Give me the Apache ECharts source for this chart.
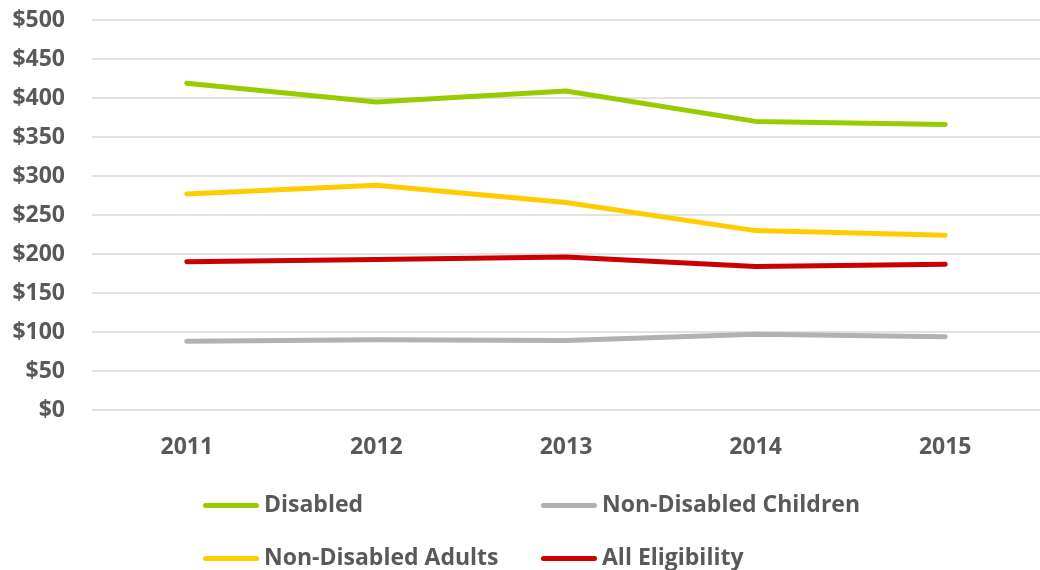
<!DOCTYPE html>
<html>
<head>
<meta charset="utf-8">
<script src="https://cdn.jsdelivr.net/npm/echarts@6/dist/echarts.min.js"></script>
<style>
  html, body { margin: 0; padding: 0; background: #ffffff; }
  #chart { width: 1040px; height: 570px; }
</style>
</head>
<body>
<div id="chart"></div>
<script>
// Monthly cost per enrollee by eligibility group, 2011-2015
const years = ['2011', '2012', '2013', '2014', '2015'];
const disabled = [419, 395, 409, 370, 366];
const nonDisabledChildren = [88, 90, 89, 97, 94];
const nonDisabledAdults = [277, 288, 266, 230, 224];
const allEligibility = [190, 193, 196, 184, 187];

const textColor = '#595959';
const fontFamily = '"Open Sans", Lato, sans-serif';

function lineSeries(name, data, color) {
  return {
    name: name,
    type: 'line',
    data: data,
    showSymbol: false,
    symbol: 'none',
    lineStyle: { color: color, width: 5, cap: 'round', join: 'round' },
    itemStyle: { color: color },
    emphasis: { disabled: true }
  };
}

// Two stacked legend columns with thick rounded line keys
const legendBase = {
  orient: 'vertical',
  top: 494,
  padding: 0,
  icon: 'path://M0,0 M56,22 M2.5,8.5 L53.5,8.5 A2.5,2.5 0 0 1 53.5,13.5 L2.5,13.5 A2.5,2.5 0 0 1 2.5,8.5 Z',
  itemWidth: 56,
  itemHeight: 22,
  itemGap: 30,
  textStyle: {
    color: textColor, fontSize: 23, fontWeight: 'bold', fontFamily: fontFamily, lineHeight: 22
  },
  selectedMode: false
};

const chart = echarts.init(document.getElementById('chart'), null, { renderer: 'canvas' });
chart.setOption({
  backgroundColor: '#ffffff',
  animation: false,
  grid: { left: 92, top: 20, width: 956, height: 390, containLabel: false },
  legend: [
    Object.assign({}, legendBase, { left: 203, data: ['Disabled', 'Non-Disabled Adults'] }),
    Object.assign({}, legendBase, { left: 541, data: ['Non-Disabled Children', 'All Eligibility'] })
  ],
  xAxis: {
    type: 'category',
    data: years,
    boundaryGap: true,
    axisLine: { show: false },
    axisTick: { show: false },
    axisLabel: { color: textColor, fontSize: 23, fontWeight: 'bold', fontFamily: fontFamily, margin: 26 }
  },
  yAxis: {
    type: 'value',
    min: 0,
    max: 500,
    interval: 50,
    axisLine: { show: false },
    axisTick: { show: false },
    axisLabel: {
      color: textColor, fontSize: 23, fontWeight: 'bold', fontFamily: fontFamily, margin: 27,
      formatter: function (v) { return '$' + v; }
    },
    splitLine: { show: true, lineStyle: { color: '#d9d9d9', width: 1.5 } }
  },
  series: [
    lineSeries('Disabled', disabled, '#99cc00'),
    lineSeries('Non-Disabled Children', nonDisabledChildren, '#b2b2b2'),
    lineSeries('Non-Disabled Adults', nonDisabledAdults, '#ffcc00'),
    lineSeries('All Eligibility', allEligibility, '#cc0000')
  ]
});
</script>
</body>
</html>
